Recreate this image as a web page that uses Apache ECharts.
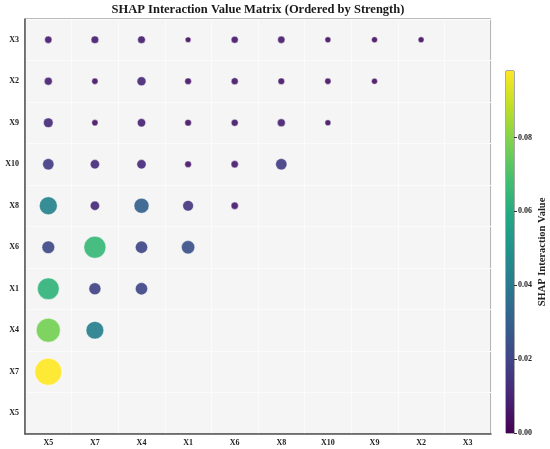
<!DOCTYPE html>
<html>
<head>
<meta charset="utf-8">
<script src="https://cdn.jsdelivr.net/npm/echarts@6/dist/echarts.min.js"></script>
<style>html,body{margin:0;padding:0;background:#fff;}#c{width:550px;height:449px;}</style>
</head>
<body>
<div id="c"></div>
<script>
// Feature order (x left→right, y bottom→top)
const features = ['X5','X7','X4','X1','X6','X8','X10','X9','X2','X3'];
// Interaction values per row feature, listed against features in order X5, X7, X4, ...
const rowX3  = [0.0072, 0.0080, 0.0080, 0.0044, 0.0068, 0.0072, 0.0048, 0.0048, 0.0048];
const rowX2  = [0.0086, 0.0053, 0.0109, 0.0060, 0.0066, 0.0060, 0.0053, 0.0048];
const rowX9  = [0.0126, 0.0053, 0.0093, 0.0060, 0.0066, 0.0086, 0.0048];
const rowX10 = [0.0172, 0.0116, 0.0116, 0.0060, 0.0072, 0.0172];
const rowX8  = [0.0435, 0.0116, 0.0302, 0.0154, 0.0072];
const rowX6  = [0.0217, 0.0650, 0.0203, 0.0238];
const rowX1  = [0.0633, 0.0194, 0.0203];
const rowX4  = [0.0774, 0.0421];
const rowX7  = [0.0980];
const colorbarTicks = [0, 0.02, 0.04, 0.06, 0.08];
const vMax = 0.098;

const rows = {X3: rowX3, X2: rowX2, X9: rowX9, X10: rowX10, X8: rowX8, X6: rowX6, X1: rowX1, X4: rowX4, X7: rowX7};
const points = [];
Object.keys(rows).forEach(function (r) {
  rows[r].forEach(function (v, i) { points.push([features[i], r, v]); });
});

const viridis = ['#440154','#482475','#414487','#355f8d','#2a788e','#21918c','#22a884','#44bf70','#7ad151','#bddf26','#fde725'];
const serif = "'Liberation Serif','Times New Roman',serif";

const chart = echarts.init(document.getElementById('c'));
chart.setOption({
  animation: false,
  graphic: [{
    type: 'text', x: 258, y: 10,
    style: {text: 'SHAP Interaction Value Matrix (Ordered by Strength)', font: 'bold 12.5px ' + serif,
      fill: '#1a1a1a', textAlign: 'center', textVerticalAlign: 'middle'}
  }],
  grid: [
    {left: 25, top: 19, width: 466, height: 415, show: true, backgroundColor: '#f5f5f5', borderColor: '#777', borderWidth: 1},
    {left: 506, top: 71, width: 8, height: 362, show: true, borderColor: '#555', borderWidth: 1}
  ],
  visualMap: {type: 'continuous', show: false, seriesIndex: 0, dimension: 2, min: 0, max: vMax, inRange: {color: viridis}},
  xAxis: [
    {type: 'category', gridIndex: 0, data: features, boundaryGap: true,
      axisLine: {lineStyle: {color: '#555', width: 1.5}},
      axisTick: {length: 2, lineStyle: {color: '#555'}},
      axisLabel: {fontFamily: serif, fontWeight: 'bold', fontSize: 8, color: '#222', margin: 5},
      splitLine: {show: true, lineStyle: {color: '#fbfbfb', width: 1}}},
    {type: 'category', gridIndex: 0, data: features, position: 'bottom', boundaryGap: true,
      axisLine: {show: false}, axisTick: {alignWithLabel: true, length: 3.5, lineStyle: {color: '#555'}},
      axisLabel: {show: false}, splitLine: {show: false}},
    {type: 'category', gridIndex: 1, data: [''], show: false}
  ],
  yAxis: [
    {type: 'category', gridIndex: 0, data: features, boundaryGap: true,
      axisLine: {lineStyle: {color: '#555', width: 1.5}},
      axisTick: {length: 2, lineStyle: {color: '#555'}},
      axisLabel: {fontFamily: serif, fontWeight: 'bold', fontSize: 8, color: '#222', margin: 6},
      splitLine: {show: true, lineStyle: {color: '#fbfbfb', width: 1}}},
    {type: 'category', gridIndex: 0, data: features, position: 'left', boundaryGap: true,
      axisLine: {show: false}, axisTick: {alignWithLabel: true, length: 3.5, lineStyle: {color: '#555'}},
      axisLabel: {show: false}, splitLine: {show: false}},
    {type: 'value', gridIndex: 1, min: 0, max: vMax, position: 'right',
      axisLine: {show: false}, splitLine: {show: false},
      axisTick: {show: true, length: 3, customValues: colorbarTicks, lineStyle: {color: '#333'}},
      axisLabel: {fontFamily: serif, fontWeight: 'bold', fontSize: 8, color: '#222', margin: 4,
        customValues: colorbarTicks, formatter: function (v) { return v.toFixed(2); }},
      name: 'SHAP Interaction Value', nameLocation: 'middle', nameRotate: 90, nameGap: 23,
      nameTextStyle: {fontFamily: serif, fontWeight: 'bold', fontSize: 10.5, color: '#222'}}
  ],
  series: [
    {type: 'scatter', xAxisIndex: 0, yAxisIndex: 0, data: points,
      symbolSize: function (d) { return 27 * Math.sqrt(d[2] / vMax); },
      itemStyle: {opacity: 0.92, borderColor: '#ffffff', borderWidth: 0.5}},
    {type: 'bar', xAxisIndex: 2, yAxisIndex: 2, data: [vMax], barWidth: '100%', silent: true,
      itemStyle: {color: new echarts.graphic.LinearGradient(0, 1, 0, 0,
        viridis.map(function (c, i) { return {offset: i / (viridis.length - 1), color: c}; }))}}
  ]
});
</script>
</body>
</html>
